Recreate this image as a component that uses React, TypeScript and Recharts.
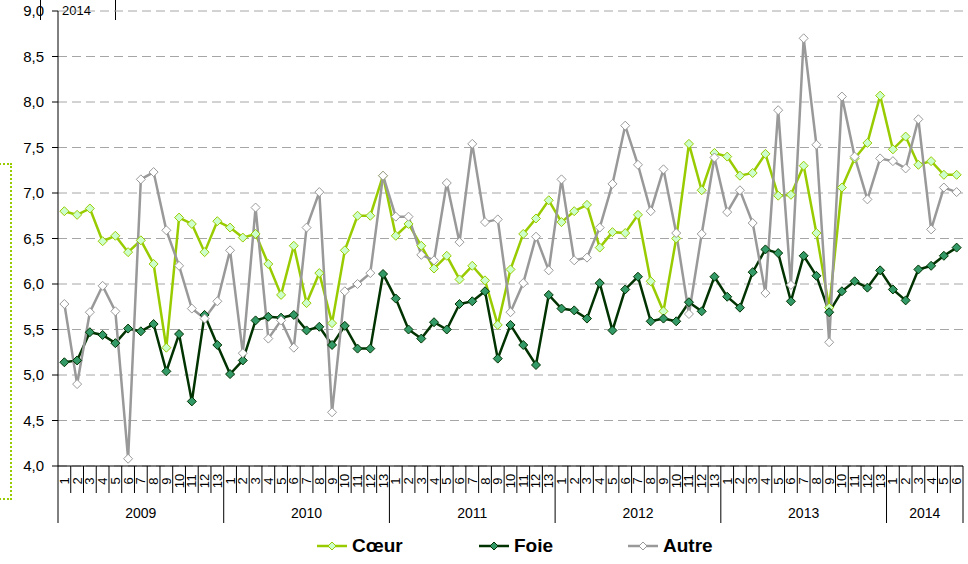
import { LineChart, Line, XAxis, YAxis, CartesianGrid } from 'recharts'

// months per year group (2014 is partial)
const YEARS = ['2009', '2010', '2011', '2012', '2013', '2014']
const PERIODS_PER_YEAR = [13, 13, 13, 13, 13, 6]

const COEUR = [
  6.80, 6.76, 6.83, 6.47, 6.53, 6.35, 6.48, 6.22, 5.30, 6.73, 6.66, 6.35, 6.69,
  6.62, 6.51, 6.55, 6.22, 5.88, 6.42, 5.79, 6.12, 5.57, 6.37, 6.75, 6.75, 7.19,
  6.53, 6.66, 6.42, 6.17, 6.31, 6.05, 6.20, 6.04, 5.55, 6.16, 6.55, 6.72, 6.92,
  6.68, 6.80, 6.87, 6.40, 6.57, 6.56, 6.76, 6.03, 5.70, 6.50, 7.54, 7.03, 7.44,
  7.40, 7.19, 7.22, 7.43, 6.97, 6.98, 7.30, 6.56, 5.74, 7.06, 7.38, 7.55, 8.07,
  7.48, 7.62, 7.31, 7.35, 7.20, 7.20,
]

const FOIE = [
  5.14, 5.16, 5.47, 5.44, 5.35, 5.51, 5.48, 5.56, 5.04, 5.45, 4.71, 5.66, 5.33,
  5.01, 5.16, 5.60, 5.64, 5.63, 5.66, 5.49, 5.53, 5.33, 5.54, 5.29, 5.29, 6.11,
  5.84, 5.50, 5.40, 5.58, 5.50, 5.78, 5.81, 5.92, 5.18, 5.55, 5.33, 5.11, 5.88,
  5.73, 5.71, 5.62, 6.01, 5.49, 5.94, 6.08, 5.59, 5.62, 5.59, 5.80, 5.70, 6.08,
  5.86, 5.74, 6.13, 6.38, 6.34, 5.81, 6.31, 6.09, 5.69, 5.92, 6.03, 5.96, 6.15,
  5.94, 5.82, 6.16, 6.20, 6.31, 6.40,
]

const AUTRE = [
  5.78, 4.90, 5.69, 5.98, 5.70, 4.08, 7.15, 7.23, 6.59, 6.20, 5.73, 5.62, 5.81,
  6.37, 5.24, 6.84, 5.40, 5.60, 5.30, 6.62, 7.01, 4.59, 5.92, 6.00, 6.12, 7.19,
  6.74, 6.74, 6.32, 6.26, 7.11, 6.46, 7.54, 6.68, 6.71, 5.69, 6.01, 6.52, 6.15,
  7.15, 6.26, 6.29, 6.62, 7.10, 7.74, 7.31, 6.80, 7.26, 6.56, 5.67, 6.55, 7.39,
  6.79, 7.03, 6.67, 5.90, 7.91, 5.99, 8.70, 7.53, 5.36, 8.06, 7.40, 6.93, 7.38,
  7.35, 7.27, 7.81, 6.60, 7.06, 7.01,
]

const Y_TICKS = [4, 4.5, 5, 5.5, 6, 6.5, 7, 7.5, 8, 8.5, 9]

interface Row {
  key: string
  year: string
  month: number
  count: number
  coeur: number
  foie: number
  autre: number
}

const rows: Row[] = []
YEARS.forEach((year, yi) => {
  for (let m = 1; m <= PERIODS_PER_YEAR[yi]; m++) {
    const i = rows.length
    rows.push({
      key: `${year}-${m}`,
      year,
      month: m,
      count: PERIODS_PER_YEAR[yi],
      coeur: COEUR[i],
      foie: FOIE[i],
      autre: AUTRE[i],
    })
  }
})

const WIDTH = 968
const HEIGHT = 564
const MARGIN = { top: 11, right: 5, left: 0, bottom: 0 }
const Y_AXIS_W = 58
const PLOT_W = WIDTH - MARGIN.left - MARGIN.right - Y_AXIS_W
const STEP = PLOT_W / rows.length
const FONT = '"Liberation Sans", Arial, sans-serif'

const LIME = '#99CC00'
const DARK = '#003300'
const GREY = '#999999'

function diamond(fill: string, stroke: string) {
  return (p: any) => {
    const { cx, cy, index } = p
    if (cx == null || cy == null) return <g key={index} />
    const r = 4.5
    return (
      <path
        key={index}
        d={`M${cx},${cy - r}L${cx + r},${cy}L${cx},${cy + r}L${cx - r},${cy}Z`}
        fill={fill}
        stroke={stroke}
        strokeWidth={1}
      />
    )
  }
}

// month number (rotated) + separators between periods + year label under each group
function MonthTick(props: any) {
  const { x, y, payload } = props
  const row = rows[payload.index]
  if (!row) return null
  const last = payload.index === rows.length - 1
  let yearLabel = null
  if (row.count % 2 === 1 && row.month === (row.count + 1) / 2) {
    yearLabel = x
  } else if (row.count % 2 === 0 && row.month === row.count / 2) {
    yearLabel = x + STEP / 2
  }
  return (
    <g>
      <text
        x={x}
        y={y + 15}
        transform={`rotate(-90, ${x}, ${y + 15})`}
        textAnchor="middle"
        dominantBaseline="central"
        fontSize={13}
        fontFamily={FONT}
        fill="#000"
      >
        {row.month}
      </text>
      <line
        x1={x - STEP / 2}
        x2={x - STEP / 2}
        y1={y}
        y2={y + (row.month === 1 ? 57 : 27)}
        stroke="#000"
        strokeWidth={1}
      />
      {last && (
        <line x1={x + STEP / 2} x2={x + STEP / 2} y1={y} y2={y + 57} stroke="#000" strokeWidth={1} />
      )}
      {yearLabel !== null && (
        <text
          x={yearLabel}
          y={y + 47}
          textAnchor="middle"
          dominantBaseline="central"
          fontSize={14}
          fontFamily={FONT}
          fill="#000"
        >
          {row.year}
        </text>
      )}
    </g>
  )
}

const LEGEND = [
  { name: 'Cœur', line: LIME, fill: '#CCFFCC', left: 317 },
  { name: 'Foie', line: DARK, fill: '#339966', left: 479 },
  { name: 'Autre', line: GREY, fill: '#FFFFFF', left: 628 },
]

export default function App() {
  return (
    <div style={{ position: 'absolute', left: 0, top: 0, width: WIDTH, height: HEIGHT, background: '#fff', fontFamily: FONT }}>
      {/* leftovers of the neighbouring chart / frame */}
      <div style={{ position: 'absolute', left: -20, top: 163, width: 28, height: 333, border: `2px dotted ${LIME}` }} />
      <div style={{ position: 'absolute', left: 40, top: 0, width: 1, height: 20, background: '#000' }} />
      <div style={{ position: 'absolute', left: 115, top: 0, width: 1, height: 20, background: '#000' }} />
      <div style={{ position: 'absolute', left: 62, top: 3, fontSize: 13, color: '#000' }}>2014</div>

      <LineChart width={WIDTH} height={HEIGHT} data={rows} margin={MARGIN} style={{ position: 'absolute', left: 0, top: 0 }}>
        <CartesianGrid vertical={false} stroke="#A6A6A6" strokeDasharray="9 5" />
        <XAxis
          dataKey="key"
          interval={0}
          padding={{ left: STEP / 2, right: STEP / 2 }}
          tickLine={false}
          tickSize={0}
          tickMargin={0}
          height={98}
          axisLine={{ stroke: '#000' }}
          tick={<MonthTick />}
        />
        <YAxis
          type="number"
          domain={[4, 9]}
          ticks={Y_TICKS}
          width={Y_AXIS_W}
          axisLine={{ stroke: '#000' }}
          tickLine={{ stroke: '#000' }}
          tickSize={6}
          tickMargin={8}
          tick={{ fill: '#000', fontSize: 15, fontFamily: FONT }}
          tickFormatter={(v: number) => v.toFixed(1).replace('.', ',')}
        />
        <Line type="linear" dataKey="coeur" name="Cœur" stroke={LIME} strokeWidth={2.5} dot={diamond('#CCFFCC', LIME)} activeDot={false} isAnimationActive={false} />
        <Line type="linear" dataKey="foie" name="Foie" stroke={DARK} strokeWidth={2.5} dot={diamond('#339966', DARK)} activeDot={false} isAnimationActive={false} />
        <Line type="linear" dataKey="autre" name="Autre" stroke={GREY} strokeWidth={2.5} dot={diamond('#FFFFFF', GREY)} activeDot={false} isAnimationActive={false} />
      </LineChart>

      {LEGEND.map((l) => (
        <div key={l.name} style={{ position: 'absolute', left: l.left, top: 534, display: 'flex', alignItems: 'center', height: 24 }}>
          <svg width={30} height={10} style={{ marginRight: 5 }}>
            <line x1={0} x2={30} y1={5} y2={5} stroke={l.line} strokeWidth={2.5} />
            <path d="M15,1L19,5L15,9L11,5Z" fill={l.fill} stroke={l.line} strokeWidth={1} />
          </svg>
          <span style={{ fontSize: 19, fontWeight: 'bold', color: '#000' }}>{l.name}</span>
        </div>
      ))}
    </div>
  )
}
